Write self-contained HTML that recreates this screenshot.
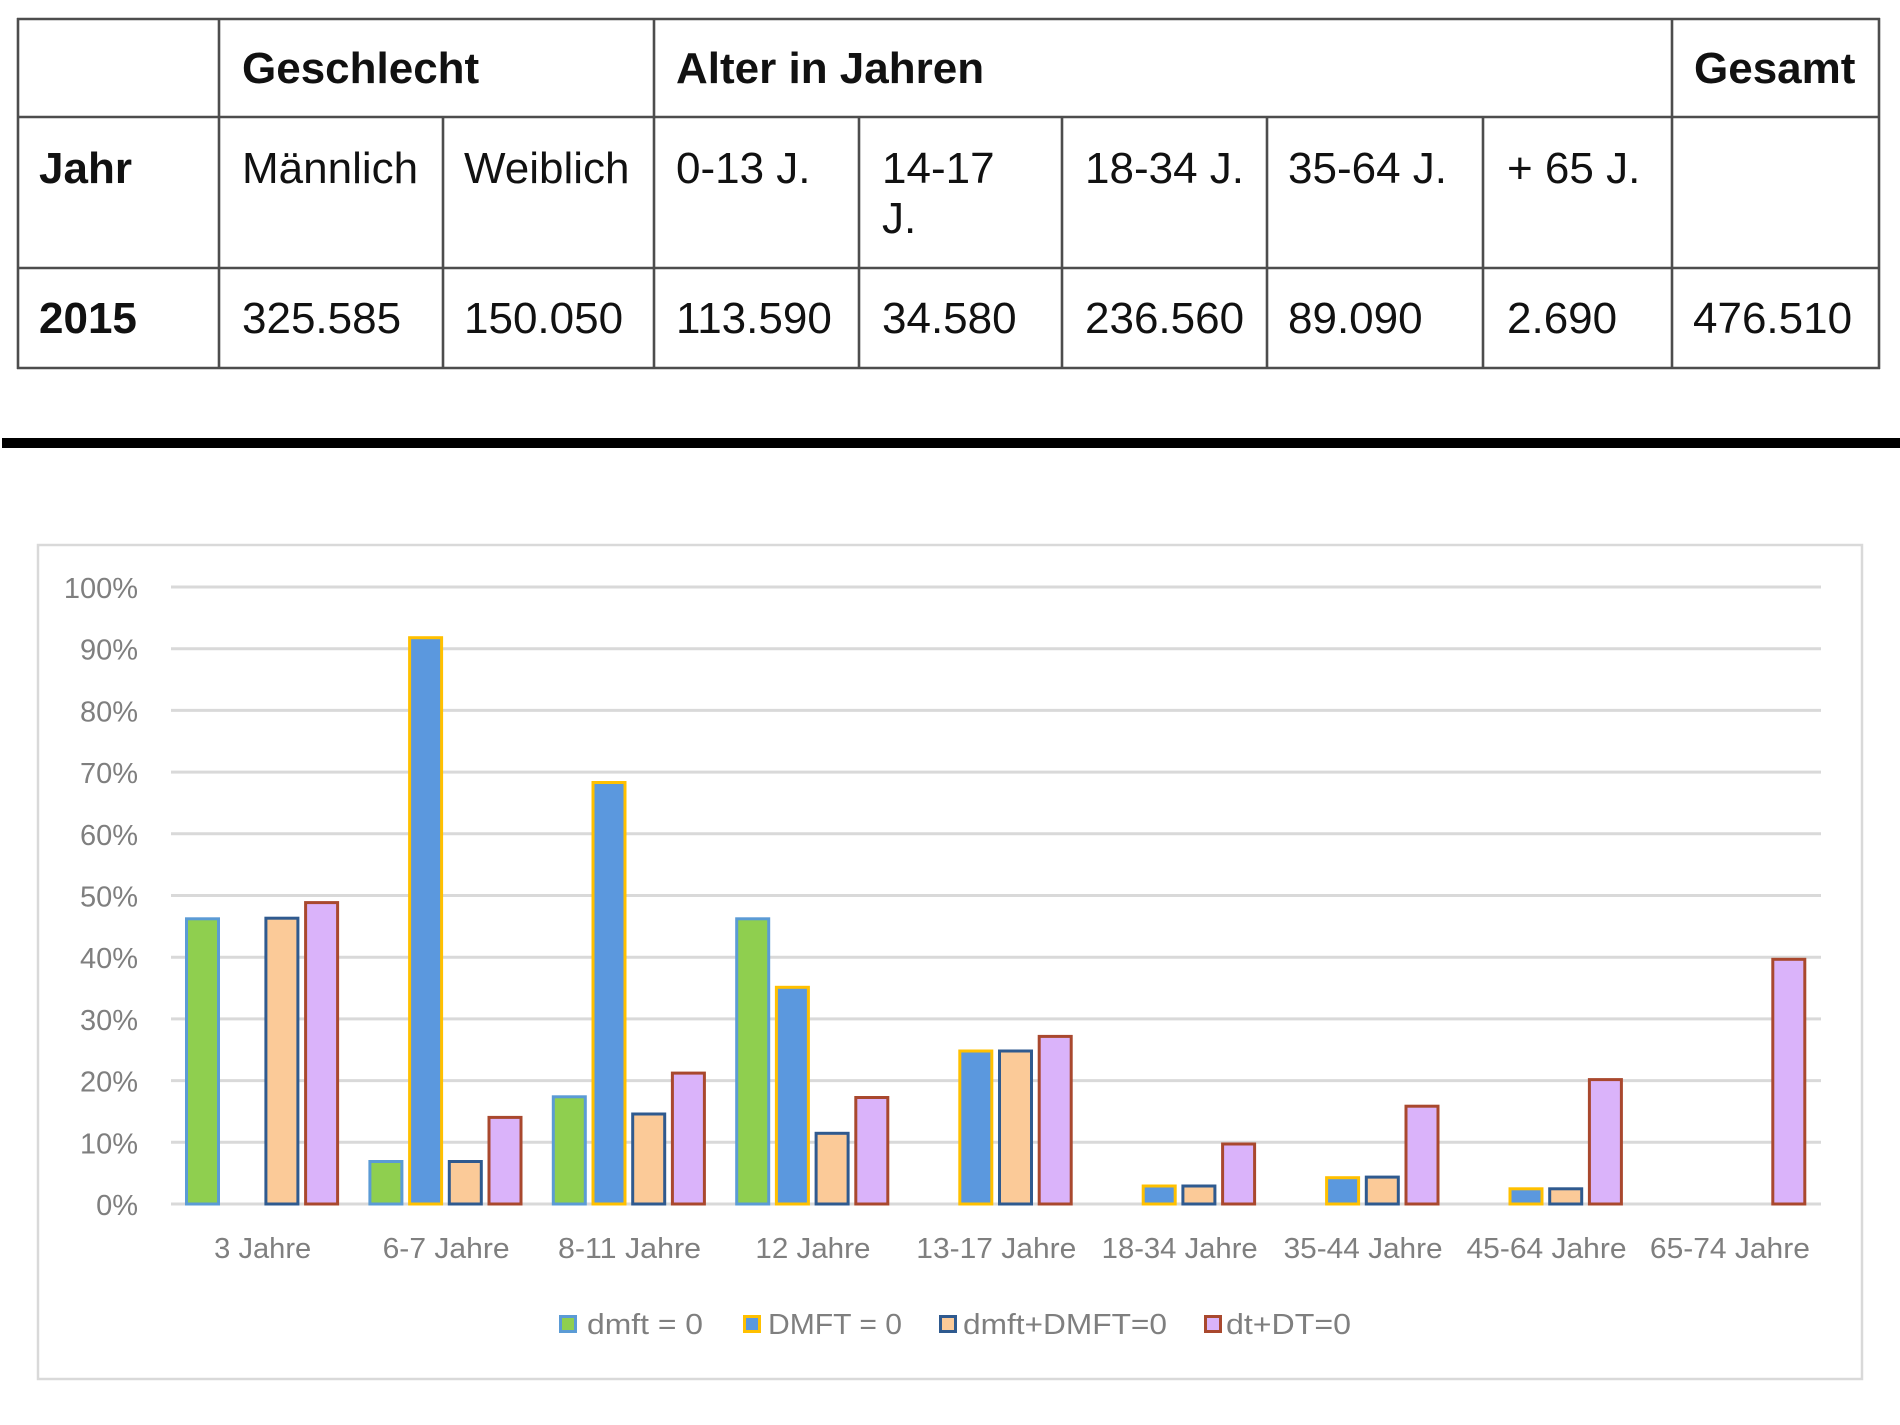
<!DOCTYPE html>
<html>
<head>
<meta charset="utf-8">
<style>
  html,body{margin:0;padding:0;background:#fff;}
  svg{display:block;}
  .t{font-family:"Liberation Sans",Arial,sans-serif;font-size:44px;fill:#111;}
  .b{font-weight:bold;}
  .ax{font-family:"Liberation Sans",Arial,sans-serif;font-size:29px;fill:#7f7f7f;}
</style>
</head>
<body>
<svg width="1900" height="1425" viewBox="0 0 1900 1425" xmlns="http://www.w3.org/2000/svg">
  <rect width="1900" height="1425" fill="#fff"/>

  <!-- TABLE LINES -->
  <g stroke="#4d4d4d" stroke-width="2.6" fill="none">
    <line x1="17" y1="19" x2="1880" y2="19"/>
    <line x1="17" y1="117" x2="1880" y2="117"/>
    <line x1="17" y1="268" x2="1880" y2="268"/>
    <line x1="17" y1="368" x2="1880" y2="368"/>
    <line x1="18" y1="18" x2="18" y2="369"/>
    <line x1="219" y1="18" x2="219" y2="369"/>
    <line x1="443" y1="117" x2="443" y2="369"/>
    <line x1="654" y1="18" x2="654" y2="369"/>
    <line x1="859" y1="117" x2="859" y2="369"/>
    <line x1="1062" y1="117" x2="1062" y2="369"/>
    <line x1="1267" y1="117" x2="1267" y2="369"/>
    <line x1="1483" y1="117" x2="1483" y2="369"/>
    <line x1="1672" y1="18" x2="1672" y2="369"/>
    <line x1="1879" y1="18" x2="1879" y2="369"/>
  </g>

  <!-- TABLE TEXT -->
  <text class="t b" x="242" y="83">Geschlecht</text>
  <text class="t b" x="676" y="83">Alter in Jahren</text>
  <text class="t b" x="1694" y="83">Gesamt</text>

  <text class="t b" x="39" y="183">Jahr</text>
  <text class="t" x="242" y="183">Männlich</text>
  <text class="t" x="464" y="183">Weiblich</text>
  <text class="t" x="676" y="183">0-13 J.</text>
  <text class="t" x="882" y="183">14-17</text>
  <text class="t" x="882" y="233">J.</text>
  <text class="t" x="1085" y="183">18-34 J.</text>
  <text class="t" x="1288" y="183">35-64 J.</text>
  <text class="t" x="1507" y="183">+ 65 J.</text>

  <text class="t b" x="39" y="333">2015</text>
  <text class="t" x="242" y="333">325.585</text>
  <text class="t" x="464" y="333">150.050</text>
  <text class="t" x="676" y="333">113.590</text>
  <text class="t" x="882" y="333">34.580</text>
  <text class="t" x="1085" y="333">236.560</text>
  <text class="t" x="1288" y="333">89.090</text>
  <text class="t" x="1507" y="333">2.690</text>
  <text class="t" x="1693" y="333">476.510</text>

  <!-- BLACK SEPARATOR -->
  <rect x="2" y="438" width="1898" height="10" fill="#000"/>

  <!-- CHART FRAME -->
  <rect x="38" y="545" width="1824" height="834" fill="#fff" stroke="#d9d9d9" stroke-width="2.5"/>

  <!-- GRIDLINES -->
  <g stroke="#d9d9d9" stroke-width="3">
    <line x1="171" y1="1204" x2="1821" y2="1204"/>
    <line x1="171" y1="1142.3" x2="1821" y2="1142.3"/>
    <line x1="171" y1="1080.6" x2="1821" y2="1080.6"/>
    <line x1="171" y1="1018.9" x2="1821" y2="1018.9"/>
    <line x1="171" y1="957.2" x2="1821" y2="957.2"/>
    <line x1="171" y1="895.5" x2="1821" y2="895.5"/>
    <line x1="171" y1="833.8" x2="1821" y2="833.8"/>
    <line x1="171" y1="772.1" x2="1821" y2="772.1"/>
    <line x1="171" y1="710.4" x2="1821" y2="710.4"/>
    <line x1="171" y1="648.7" x2="1821" y2="648.7"/>
    <line x1="171" y1="587" x2="1821" y2="587"/>
  </g>

  <!-- Y LABELS -->
  <g class="ax" text-anchor="end">
    <text x="138" y="1215">0%</text>
    <text x="138" y="1153.3">10%</text>
    <text x="138" y="1091.6">20%</text>
    <text x="138" y="1029.9">30%</text>
    <text x="138" y="968.2">40%</text>
    <text x="138" y="906.5">50%</text>
    <text x="138" y="844.8">60%</text>
    <text x="138" y="783.1">70%</text>
    <text x="138" y="721.4">80%</text>
    <text x="138" y="659.7">90%</text>
    <text x="138" y="598">100%</text>
  </g>

  <!-- BARS -->
  <g stroke-width="3">
    <!-- group 0: 3 Jahre -->
    <rect x="186.5" y="918.8" width="32" height="285.2" fill="#8fcf4f" stroke="#5b9bd5"/>
    <rect x="265.9" y="918.2" width="32" height="285.8" fill="#fbca98" stroke="#2f5a8f"/>
    <rect x="305.6" y="902.6" width="32" height="301.4" fill="#dab3fa" stroke="#a9482e"/>

    <!-- group 1: 6-7 Jahre -->
    <rect x="369.9" y="1161.5" width="32" height="42.5" fill="#8fcf4f" stroke="#5b9bd5"/>
    <rect x="409.6" y="637.7" width="32" height="566.3" fill="#5b98de" stroke="#ffc000"/>
    <rect x="449.3" y="1161.5" width="32" height="42.5" fill="#fbca98" stroke="#2f5a8f"/>
    <rect x="489.0" y="1117.4" width="32" height="86.6" fill="#dab3fa" stroke="#a9482e"/>

    <!-- group 2: 8-11 Jahre -->
    <rect x="553.3" y="1096.8" width="32" height="107.2" fill="#8fcf4f" stroke="#5b9bd5"/>
    <rect x="593.0" y="782.5" width="32" height="421.5" fill="#5b98de" stroke="#ffc000"/>
    <rect x="632.7" y="1114.0" width="32" height="90.0" fill="#fbca98" stroke="#2f5a8f"/>
    <rect x="672.4" y="1073.1" width="32" height="130.9" fill="#dab3fa" stroke="#a9482e"/>

    <!-- group 3: 12 Jahre -->
    <rect x="736.7" y="918.8" width="32" height="285.2" fill="#8fcf4f" stroke="#5b9bd5"/>
    <rect x="776.4" y="987.3" width="32" height="216.7" fill="#5b98de" stroke="#ffc000"/>
    <rect x="816.1" y="1133.3" width="32" height="70.7" fill="#fbca98" stroke="#2f5a8f"/>
    <rect x="855.8" y="1097.5" width="32" height="106.5" fill="#dab3fa" stroke="#a9482e"/>

    <!-- group 4: 13-17 Jahre -->
    <rect x="959.8" y="1051.0" width="32" height="153.0" fill="#5b98de" stroke="#ffc000"/>
    <rect x="999.5" y="1051.0" width="32" height="153.0" fill="#fbca98" stroke="#2f5a8f"/>
    <rect x="1039.2" y="1036.4" width="32" height="167.6" fill="#dab3fa" stroke="#a9482e"/>

    <!-- group 5: 18-34 Jahre -->
    <rect x="1143.2" y="1186.0" width="32" height="18.0" fill="#5b98de" stroke="#ffc000"/>
    <rect x="1182.9" y="1186.0" width="32" height="18.0" fill="#fbca98" stroke="#2f5a8f"/>
    <rect x="1222.6" y="1144.0" width="32" height="60.0" fill="#dab3fa" stroke="#a9482e"/>

    <!-- group 6: 35-44 Jahre -->
    <rect x="1326.6" y="1177.7" width="32" height="26.3" fill="#5b98de" stroke="#ffc000"/>
    <rect x="1366.3" y="1177.1" width="32" height="26.9" fill="#fbca98" stroke="#2f5a8f"/>
    <rect x="1406.0" y="1106.2" width="32" height="97.8" fill="#dab3fa" stroke="#a9482e"/>

    <!-- group 7: 45-64 Jahre -->
    <rect x="1510.0" y="1188.8" width="32" height="15.2" fill="#5b98de" stroke="#ffc000"/>
    <rect x="1549.7" y="1188.8" width="32" height="15.2" fill="#fbca98" stroke="#2f5a8f"/>
    <rect x="1589.4" y="1079.6" width="32" height="124.4" fill="#dab3fa" stroke="#a9482e"/>

    <!-- group 8: 65-74 Jahre -->
    <rect x="1772.8" y="959.3" width="32" height="244.7" fill="#dab3fa" stroke="#a9482e"/>
  </g>

  <!-- CATEGORY LABELS -->
  <g class="ax" text-anchor="middle">
    <text x="262.7" y="1258" textLength="97" lengthAdjust="spacingAndGlyphs">3 Jahre</text>
    <text x="446.1" y="1258" textLength="127" lengthAdjust="spacingAndGlyphs">6-7 Jahre</text>
    <text x="629.5" y="1258" textLength="143" lengthAdjust="spacingAndGlyphs">8-11 Jahre</text>
    <text x="812.9" y="1258" textLength="115" lengthAdjust="spacingAndGlyphs">12 Jahre</text>
    <text x="996.3" y="1258" textLength="160" lengthAdjust="spacingAndGlyphs">13-17 Jahre</text>
    <text x="1179.7" y="1258" textLength="156" lengthAdjust="spacingAndGlyphs">18-34 Jahre</text>
    <text x="1363.1" y="1258" textLength="159" lengthAdjust="spacingAndGlyphs">35-44 Jahre</text>
    <text x="1546.5" y="1258" textLength="160" lengthAdjust="spacingAndGlyphs">45-64 Jahre</text>
    <text x="1729.9" y="1258" textLength="160" lengthAdjust="spacingAndGlyphs">65-74 Jahre</text>
  </g>

  <!-- LEGEND -->
  <g stroke-width="3">
    <rect x="560.5" y="1316.5" width="15" height="15" fill="#8fcf4f" stroke="#5b9bd5"/>
    <rect x="744.5" y="1316.5" width="15" height="15" fill="#5b98de" stroke="#ffc000"/>
    <rect x="940.5" y="1316.5" width="15" height="15" fill="#fbca98" stroke="#2f5a8f"/>
    <rect x="1205.5" y="1316.5" width="15" height="15" fill="#dab3fa" stroke="#a9482e"/>
  </g>
  <g class="ax">
    <text x="587" y="1334" textLength="116" lengthAdjust="spacingAndGlyphs">dmft = 0</text>
    <text x="768" y="1334" textLength="134" lengthAdjust="spacingAndGlyphs">DMFT = 0</text>
    <text x="963" y="1334" textLength="204" lengthAdjust="spacingAndGlyphs">dmft+DMFT=0</text>
    <text x="1226" y="1334" textLength="125" lengthAdjust="spacingAndGlyphs">dt+DT=0</text>
  </g>
</svg>
</body>
</html>
